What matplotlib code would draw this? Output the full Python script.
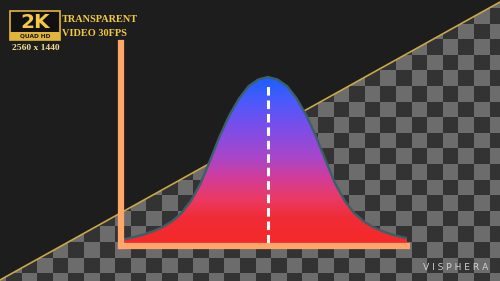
import numpy as np
import matplotlib
matplotlib.use("Agg")
import matplotlib.pyplot as plt
from matplotlib.colors import LinearSegmentedColormap, ListedColormap
from matplotlib.patches import Polygon, Rectangle

# bell curve, x in std devs, height relative to peak
xs = [-3.0, -2.8, -2.6, -2.4, -2.2, -2.0, -1.8, -1.6, -1.4, -1.2, -1.0,
      -0.8, -0.6, -0.4, -0.2, 0.0, 0.2, 0.4, 0.6, 0.8, 1.0,
      1.2, 1.4, 1.6, 1.8, 2.0, 2.2, 2.4, 2.6, 2.8, 3.0]
ys = [0.022, 0.035, 0.05, 0.07, 0.095, 0.13, 0.18, 0.255, 0.36, 0.50, 0.645,
      0.77, 0.87, 0.945, 0.985, 1.0, 0.985, 0.945, 0.87, 0.77, 0.645,
      0.50, 0.36, 0.255, 0.18, 0.13, 0.095, 0.07, 0.05, 0.035, 0.022]
mean_x = 0.0
mean_top = 0.97

BG = "#1d1d1d"
GOLD = "#f3c846"

fig = plt.figure(figsize=(5, 2.81), dpi=100)
fig.patch.set_facecolor(BG)

# background: transparency checkerboard below the diagonal
bg = fig.add_axes([0, 0, 1, 1], zorder=0)
bg.set_xlim(0, 500)
bg.set_ylim(281, 0)
bg.axis("off")
s = 15.6
x0, y0 = 6 - s, 8 - s
jj, ii = np.indices((19, 34))
cells = ((ii + jj) % 2 == 0).astype(int)
chk = bg.imshow(cells, extent=(x0, x0 + 34 * s, y0 + 19 * s, y0), origin="upper",
                cmap=ListedColormap(["#333333", "#6c6c6c"]), interpolation="nearest",
                aspect="auto")
tri = Polygon([(0, 280), (500, 2), (500, 290), (0, 290)], closed=True,
              facecolor="none", edgecolor="none", transform=bg.transData)
bg.add_patch(tri)
chk.set_clip_path(tri)
bg.plot([0, 500], [280, 2], color="#c8a848", lw=1.2)

# 2K badge and labels
bg.add_patch(Rectangle((10, 11), 50, 29, facecolor="#111111", edgecolor="#e2b43a", lw=1.2))
bg.add_patch(Rectangle((10, 32), 50, 8, facecolor="#e2b43a", edgecolor="none"))
bg.text(35, 22, "2K", color=GOLD, fontsize=14.5, fontweight="bold", ha="center", va="center",
        family="DejaVu Sans")
bg.text(35, 36.2, "QUAD HD", color="#1a1a1a", fontsize=4.2, fontweight="bold",
        ha="center", va="center")
bg.text(62, 19, "TRANSPARENT", color=GOLD, fontsize=7.4, fontweight="bold",
        family="Liberation Serif", ha="left", va="center")
bg.text(62, 33, "VIDEO 30FPS", color=GOLD, fontsize=7.4, fontweight="bold",
        family="Liberation Serif", ha="left", va="center")
bg.text(12, 47.5, "2560 x 1440", color="#f3dc96", fontsize=6.8, fontweight="bold",
        family="Liberation Serif", ha="left", va="center")
bg.text(456, 268, "V I S P H E R A", color="#cfcfcf", fontsize=6.6, ha="center", va="center")

# chart
ax = fig.add_axes([121 / 500, (281 - 246) / 281, (407 - 121) / 500, (246 - 43) / 281], zorder=1)
ax.set_facecolor("none")
ax.set_xlim(-3.06, 2.9)
ax.set_ylim(-3 / 166, 200 / 166)
ax.set_xticks([])
ax.set_yticks([])
for side in ["top", "right"]:
    ax.spines[side].set_visible(False)
for side in ["left", "bottom"]:
    ax.spines[side].set_color("#ffa66b")
    ax.spines[side].set_linewidth(4.5)
    ax.spines[side].set_zorder(5)

bell_cmap = LinearSegmentedColormap.from_list("bell", [
    (0.0, "#f42a2a"), (0.15, "#f02c36"), (0.27, "#ea3a66"), (0.39, "#d23c98"),
    (0.51, "#aa46c8"), (0.70, "#7a4eea"), (0.86, "#4a5afc"), (1.0, "#1a60ff")])
grad = np.linspace(0, 1, 256).reshape(-1, 1)
im = ax.imshow(grad, extent=(-3.5, 3.5, 0, 1.0), origin="lower", cmap=bell_cmap,
               aspect="auto", zorder=1)
shape = Polygon(list(zip(xs, ys)) + [(xs[-1], 0), (xs[0], 0)], closed=True,
                facecolor="none", edgecolor="none")
ax.add_patch(shape)
im.set_clip_path(shape)
ax.plot(xs, ys, color="#3a6068", lw=1.7, zorder=2, solid_capstyle="round")
ax.plot([mean_x, mean_x], [0, mean_top], color="white", lw=2.2, dashes=(2.8, 1.6), zorder=3)

fig.savefig("out.png", dpi=100, facecolor=BG)
